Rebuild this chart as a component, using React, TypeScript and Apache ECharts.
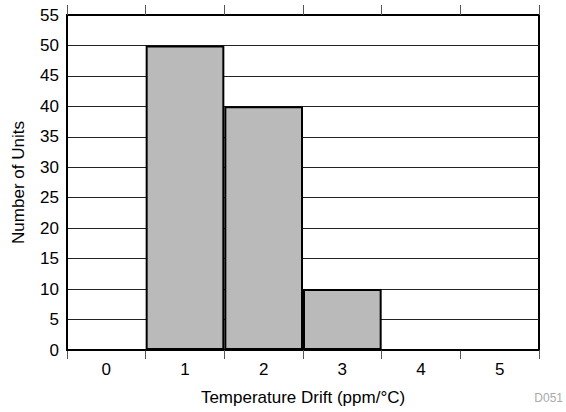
import React, { useEffect, useRef } from "react";
import * as echarts from "echarts";

const categories = ["0", "1", "2", "3", "4", "5"];
const units = [0, 50, 40, 10, 0, 0];
const yMin = 0;
const yMax = 55;
const yStep = 5;
const xName = "Temperature Drift (ppm/°C)";
const yName = "Number of Units";
const docId = "D051";

export default function App() {
  const ref = useRef<HTMLDivElement>(null);
  useEffect(() => {
    document.body.style.margin = "0";
    if (!ref.current) return;
    const chart = echarts.init(ref.current, null, { renderer: "svg" });
    const font = "Liberation Sans, Arial, Helvetica, sans-serif";
    chart.setOption({
      animation: false,
      backgroundColor: "#ffffff",
      textStyle: { fontFamily: font },
      grid: {
        left: 67,
        right: 27,
        top: 15,
        bottom: 62,
        show: true,
        borderColor: "#000",
        borderWidth: 2,
        backgroundColor: "transparent",
      },
      xAxis: [
        {
          type: "category",
          data: categories,
          position: "bottom",
          boundaryGap: true,
          axisLine: { show: true, lineStyle: { color: "#000", width: 2 } },
          axisTick: {
            show: true,
            alignWithLabel: false,
            length: 9,
            lineStyle: { color: "#555", width: 1 },
          },
          axisLabel: {
            color: "#000",
            fontSize: 17,
            margin: 11,
            fontFamily: font,
          },
          splitLine: { show: false },
          name: xName,
          nameLocation: "middle",
          nameGap: 39,
          nameTextStyle: { color: "#000", fontSize: 17, fontFamily: font },
        },
        {
          type: "category",
          data: categories,
          position: "top",
          boundaryGap: true,
          axisLine: { show: true, lineStyle: { color: "#000", width: 2 } },
          axisTick: {
            show: true,
            alignWithLabel: false,
            length: 10,
            lineStyle: { color: "#555", width: 1 },
          },
          axisLabel: { show: false },
          splitLine: { show: false },
        },
      ],
      yAxis: [
        {
          type: "value",
          min: yMin,
          max: yMax,
          interval: yStep,
          axisLine: { show: true, lineStyle: { color: "#000", width: 2 } },
          axisTick: { show: false },
          axisLabel: {
            color: "#000",
            fontSize: 17,
            margin: 8,
            fontFamily: font,
          },
          splitLine: { show: true, lineStyle: { color: "#222", width: 1 } },
          name: yName,
          nameLocation: "middle",
          nameRotate: 90,
          nameGap: 40,
          nameTextStyle: { color: "#000", fontSize: 17, fontFamily: font },
        },
      ],
      series: [
        {
          type: "bar",
          data: units,
          xAxisIndex: 0,
          yAxisIndex: 0,
          barCategoryGap: "0%",
          barGap: "0%",
          itemStyle: { color: "#bababa", borderColor: "#000", borderWidth: 2 },
          z: 3,
        },
      ],
      graphic: [
        {
          type: "text",
          right: 3,
          top: 392,
          style: {
            text: docId,
            fill: "#aaaaaa",
            fontSize: 12,
            fontFamily: font,
          },
        },
      ],
    });
    return () => chart.dispose();
  }, []);
  return <div ref={ref} style={{ width: 566, height: 412 }} />;
}
